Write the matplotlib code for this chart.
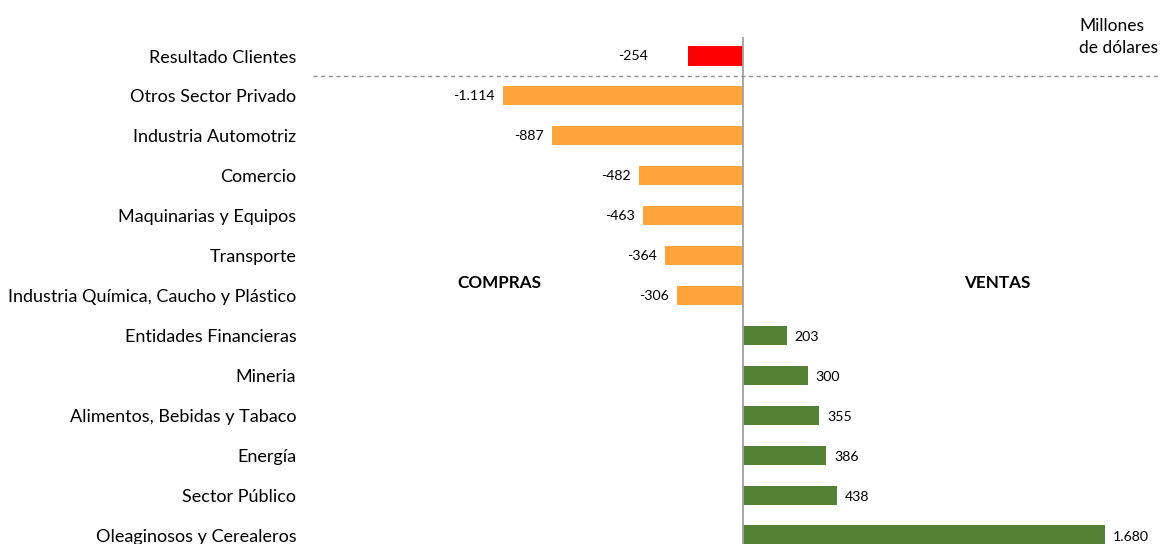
import matplotlib.pyplot as plt

plt.rcParams['font.family'] = ['Lato', 'DejaVu Sans']

categorias = [
    'Resultado Clientes',
    'Otros Sector Privado',
    'Industria Automotriz',
    'Comercio',
    'Maquinarias y Equipos',
    'Transporte',
    'Industria Química, Caucho y Plástico',
    'Entidades Financieras',
    'Mineria',
    'Alimentos, Bebidas y Tabaco',
    'Energía',
    'Sector Público',
    'Oleaginosos y Cerealeros',
]
valores = [-254, -1114, -887, -482, -463, -364, -306, 203, 300, 355, 386, 438, 1680]


def color_barra(i, v):
    if i == 0:
        return '#FF0000'
    return '#FFA43A' if v < 0 else '#548235'


def formato(v):
    # separador de miles con punto
    return f'{v:,}'.replace(',', '.')


W, H = 1160, 544
fig = plt.figure(figsize=(W / 100, H / 100), dpi=100)
ax = fig.add_axes([313 / W, 0, (W - 313) / W, (H - 37) / H])

pos = list(range(len(categorias)))
ax.barh(pos, valores, height=0.48,
        color=[color_barra(i, v) for i, v in enumerate(valores)])

ax.set_xlim(-1995, 1935)
ax.set_ylim(12.225, -0.476)

ax.axvline(0, color='#A0A0A0', lw=1.3)
ax.axhline(0.5, color='#909090', lw=1, ls=(0, (3, 2.5)))

for i, v in enumerate(valores):
    if v < 0:
        off = -40 if i == 0 else -8
        ax.annotate(formato(v), (v, i), xytext=(off, 0), textcoords='offset pixels',
                    ha='right', va='center', fontsize=10.2)
    else:
        ax.annotate(formato(v), (v, i), xytext=(8, -2), textcoords='offset pixels',
                    ha='left', va='center', fontsize=10.2)

ax.set_yticks(pos)
ax.set_yticklabels(categorias, fontsize=13)
ax.tick_params(axis='y', length=0, pad=12)
ax.set_xticks([])
for s in ax.spines.values():
    s.set_visible(False)

ax.text(-1132, 5.69, 'COMPRAS', ha='center', va='center', fontsize=12.3, fontweight='bold')
ax.text(1179, 5.69, 'VENTAS', ha='center', va='center', fontsize=12.3, fontweight='bold')

fig.text(1079 / W, 1 - 37 / H, 'Millones\nde dólares', ha='left', va='center',
         fontsize=12.5, linespacing=1.4)

fig.savefig('out.png', dpi=100)
